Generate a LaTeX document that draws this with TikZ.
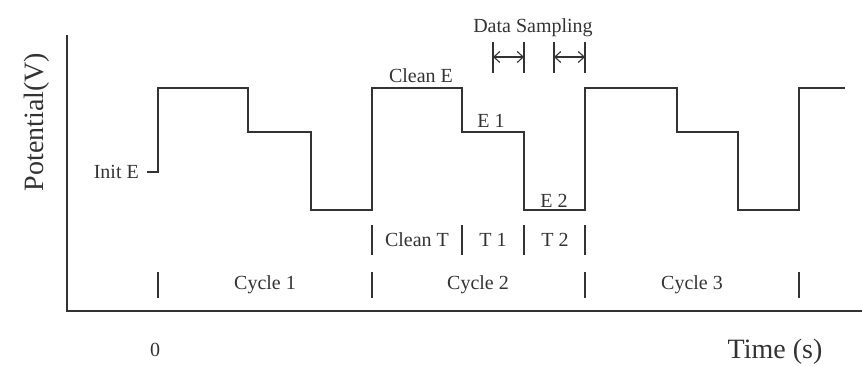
\documentclass[tikz,border=0pt]{standalone}
\usepackage{fontspec}
\setmainfont{Liberation Serif}
\usetikzlibrary{arrows.meta}
\definecolor{ink}{HTML}{333333}
\tikzset{
  wave/.style={draw=ink, line width=1.4pt},
  axis/.style={draw=ink, line width=1.4pt},
  tick/.style={draw=ink, line width=1.2pt},
  lbl/.style={font=\fontsize{20}{23}\selectfont, text=ink, inner sep=0pt},
  big/.style={font=\fontsize{28}{32}\selectfont, text=ink, inner sep=0pt},
  span/.style={draw=ink, line width=1.1pt, {Straight Barb[length=6pt,width=11pt]}-{Straight Barb[length=6pt,width=11pt]}}
}
\begin{document}
\begin{tikzpicture}[x=1pt,y=-1pt]
\useasboundingbox (0,0) rectangle (862,365);
% axes
\coordinate (ytop) at (67,35);
\coordinate (orig) at (67,311);
\coordinate (xend) at (862,311);
\draw[axis] (ytop) -- (orig) -- (xend);
\node[big, rotate=90] (ylab) at (37,122) {Potential(V)};
\node[big] (xlab) at (775,352) {Time (s)};
\node[lbl] (zero) at (155,350) {0};
% waveform
\draw[wave] (147,172) -- (158,172) -- (158,88) -- (248,88) -- (248,132) -- (311,132) -- (311,210) -- (372,210)
  -- (372,88) -- (462,88) -- (462,132) -- (524,132) -- (524,210) -- (585,210)
  -- (585,88) -- (677,88) -- (677,132) -- (738,132) -- (738,210) -- (799,210)
  -- (799,88) -- (845,88);
\node[lbl, anchor=east] (init) at (139,172) {Init E};
\node[lbl] (cleanE) at (421,76) {Clean E};
\node[lbl] (e1) at (491,121) {E 1};
\node[lbl] (e2) at (554,201) {E 2};
% cycle ticks
\foreach \x in {158,372,585,799}{\draw[tick] (\x,272) -- (\x,298);}
\node[lbl] (c1) at (265,285) {Cycle 1};
\node[lbl] (c2) at (478,285) {Cycle 2};
\node[lbl] (c3) at (692,285) {Cycle 3};
% segment ticks
\foreach \x in {372,462,524,585}{\draw[tick] (\x,225) -- (\x,255);}
\node[lbl] (cleanT) at (417,240) {Clean T};
\node[lbl] (t1) at (493,240) {T 1};
\node[lbl] (t2) at (555,240) {T 2};
% data sampling
\node[lbl] (ds) at (533,28) {Data Sampling};
\foreach \a/\b in {493/524,554/585}{
  \draw[tick] (\a,42) -- (\a,73);
  \draw[tick] (\b,42) -- (\b,73);
  \coordinate (sa) at (\a,57);
  \coordinate (sb) at (\b,57);
  \draw[span] (sa) -- (sb);
}
\end{tikzpicture}
\end{document}
